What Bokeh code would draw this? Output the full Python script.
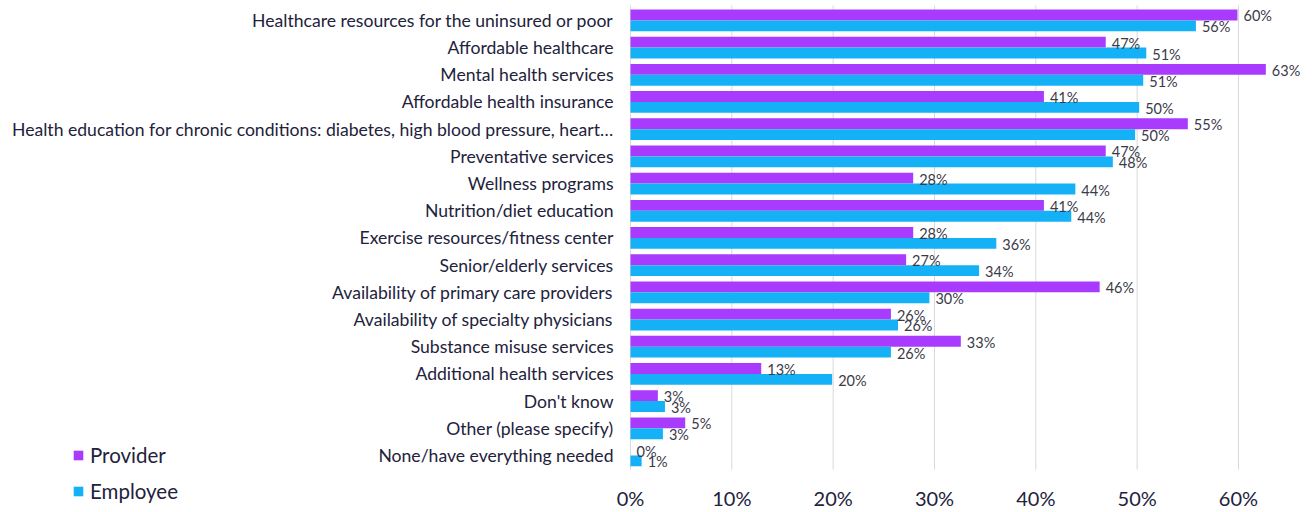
import numpy as np
from bokeh.plotting import figure
from bokeh.models import (ColumnDataSource, FixedTicker, NumeralTickFormatter,
                          Legend, LegendItem, Range1d)
from bokeh.transform import dodge
from bokeh.core.properties import value
from bokeh.embed import file_html
from bokeh.resources import INLINE

categories = [
    "Healthcare resources for the uninsured or poor",
    "Affordable healthcare",
    "Mental health services",
    "Affordable health insurance",
    "Health education for chronic conditions: diabetes, high blood pressure, heart\u2026",
    "Preventative services",
    "Wellness programs",
    "Nutrition/diet education",
    "Exercise resources/fitness center",
    "Senior/elderly services",
    "Availability of primary care providers",
    "Availability of specialty physicians",
    "Substance misuse services",
    "Additional health services",
    "Don't know",
    "Other (please specify)",
    "None/have everything needed",
]
provider = [0.599, 0.469, 0.627, 0.408, 0.550, 0.469, 0.279, 0.408, 0.279, 0.272,
            0.463, 0.257, 0.326, 0.129, 0.027, 0.054, 0.0]
employee = [0.558, 0.509, 0.506, 0.502, 0.498, 0.476, 0.439, 0.435, 0.361, 0.344,
            0.295, 0.264, 0.257, 0.199, 0.034, 0.032, 0.011]
x_ticks = [0, 0.1, 0.2, 0.3, 0.4, 0.5, 0.6]
series_names = ["Provider", "Employee"]

PURPLE = "#A93BFF"
CYAN = "#14B1F7"
TEXT = "#22223C"
LABEL = "#3A3A48"
FONT = "Lato"

W, H = 1310, 512
PX_PER_UNIT = 1013.3      # pixels per 100% on the x axis
X0_PX = 630               # pixel position of 0%
ROW_PX = 27.3             # pixels per category row
ROW0_PX = 20              # pixel centre of first row
FRAME_H = 506

n = len(categories)
src = ColumnDataSource(dict(
    idx=np.arange(n),
    cat=categories,
    provider=provider,
    employee=employee,
    plab=[f"{round(v * 100)}%" for v in provider],
    elab=[f"{round(v * 100)}%" for v in employee],
))

p = figure(
    x_range=Range1d(-X0_PX / PX_PER_UNIT, (W - X0_PX) / PX_PER_UNIT),
    y_range=Range1d((FRAME_H - ROW0_PX) / ROW_PX, -ROW0_PX / ROW_PX),
    width=W, height=H,
    min_border_left=0, min_border_right=0, min_border_top=0, min_border_bottom=0,
    output_backend="svg", toolbar_location=None,
)
p.outline_line_color = None
p.background_fill_color = None
p.border_fill_color = None
p.yaxis.visible = False
p.xgrid.grid_line_color = None
p.ygrid.grid_line_color = None

# vertical gridlines spanning the category rows
p.segment(x0=x_ticks, x1=x_ticks, y0=[-0.55] * len(x_ticks), y1=[n - 0.48] * len(x_ticks),
          line_color="#D9D9D9", line_width=1)

rp = p.hbar(y=dodge("idx", -0.2), right="provider", height=0.4,
            source=src, color=PURPLE, line_color=None)
re = p.hbar(y=dodge("idx", 0.2), right="employee", height=0.4,
            source=src, color=CYAN, line_color=None)

p.text(x="provider", y=dodge("idx", -0.2), text="plab", source=src,
       x_offset=6, y_offset=1, text_font=value(FONT), text_font_size="14.5px",
       text_color=LABEL, text_baseline="middle")
p.text(x="employee", y=dodge("idx", 0.2), text="elab", source=src,
       x_offset=6, y_offset=1, text_font=value(FONT), text_font_size="14.5px",
       text_color=LABEL, text_baseline="middle")

# category labels (left of 0%)
p.text(x=0, y="idx", text="cat", source=src, x_offset=-17, y_offset=0,
       text_font=value(FONT), text_font_size="17.6px", text_color=TEXT,
       text_align="right", text_baseline="middle")

p.xaxis.ticker = FixedTicker(ticks=x_ticks)
p.xaxis.formatter = NumeralTickFormatter(format="0%")
p.xaxis.axis_line_color = None
p.xaxis.major_tick_line_color = None
p.xaxis.minor_tick_line_color = None
p.xaxis.major_tick_out = 0
p.xaxis.major_tick_in = 0
p.xaxis.major_label_text_font = FONT
p.xaxis.major_label_text_font_size = "20px"
p.xaxis.major_label_text_color = TEXT
p.xaxis.major_label_standoff = -19

legend = Legend(items=[LegendItem(label=series_names[0], renderers=[rp]),
                       LegendItem(label=series_names[1], renderers=[re])],
                location=(72, 1))
legend.margin = 0
legend.padding = 0
legend.spacing = 12
legend.border_line_color = None
legend.background_fill_alpha = 0
legend.glyph_width = 12
legend.glyph_height = 12
legend.label_standoff = 6
legend.label_text_font = FONT
legend.label_text_font_size = "20.5px"
legend.label_text_color = TEXT
p.add_layout(legend, "center")

open("out.html", "w").write(file_html(p, INLINE))
